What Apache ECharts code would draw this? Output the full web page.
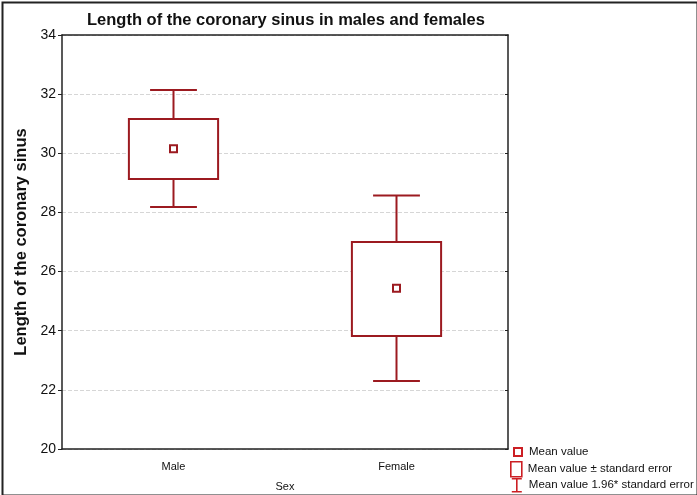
<!DOCTYPE html>
<html>
<head>
<meta charset="utf-8">
<script src="https://cdn.jsdelivr.net/npm/echarts@6/dist/echarts.min.js"></script>
<style>html,body{margin:0;padding:0;background:#fff}#c{width:697px;height:495px}</style>
</head>
<body>
<div id="c"></div>
<script>
const categories = ['Male', 'Female'];
const meanValues = [30.15, 25.44];
const seLow = [29.13, 23.82];
const seHigh = [31.16, 27.0];
const ciLow = [28.18, 22.30];
const ciHigh = [32.14, 28.57];
const yTicks = [20, 22, 24, 26, 28, 30, 32, 34];
const legendNames = ['Mean value', 'Mean value \u00b1 standard error', 'Mean value 1.96* standard error'];

const RED = '#9c1a20';
const LEG = '#cc1f24';

const chart = echarts.init(document.getElementById('c'));

function whiskerItem(params, api) {
  const i = api.value(0);
  const band = api.size([1, 0])[0];
  const cap = band * 0.105;
  const pLo = api.coord([i, api.value(1)]);
  const pHi = api.coord([i, api.value(2)]);
  const bLo = api.coord([i, api.value(3)]);
  const bHi = api.coord([i, api.value(4)]);
  const st = { stroke: RED, lineWidth: 2, fill: null };
  return {
    type: 'group',
    children: [
      { type: 'line', shape: { x1: pHi[0], y1: pHi[1], x2: bHi[0], y2: bHi[1] }, style: st },
      { type: 'line', shape: { x1: bLo[0], y1: bLo[1], x2: pLo[0], y2: pLo[1] }, style: st },
      { type: 'line', shape: { x1: pHi[0] - cap, y1: pHi[1], x2: pHi[0] + cap, y2: pHi[1] }, style: st },
      { type: 'line', shape: { x1: pLo[0] - cap, y1: pLo[1], x2: pLo[0] + cap, y2: pLo[1] }, style: st }
    ]
  };
}

function boxItem(params, api) {
  const i = api.value(0);
  const band = api.size([1, 0])[0];
  const half = band * 0.2;
  const lo = api.coord([i, api.value(1)]);
  const hi = api.coord([i, api.value(2)]);
  return {
    type: 'rect',
    shape: { x: lo[0] - half, y: hi[1], width: half * 2, height: lo[1] - hi[1] },
    style: { stroke: RED, lineWidth: 2, fill: '#fff' }
  };
}

function meanItem(params, api) {
  const p = api.coord([api.value(0), api.value(1)]);
  return {
    type: 'rect',
    shape: { x: p[0] - 3.5, y: p[1] - 3.5, width: 7, height: 7 },
    style: { stroke: RED, lineWidth: 2, fill: '#fff' }
  };
}

const legendIcons = [
  { icon: 'path://M0,0M13,14M3,3h8v8h-8z', itemStyle: { color: '#fff', borderColor: LEG, borderWidth: 2 } },
  { icon: 'path://M1,0h11v15h-11z', itemStyle: { color: '#fff', borderColor: LEG, borderWidth: 1.6 } },
  { icon: 'path://M0,0M13,15M1,1h10M6,1v13M1,14h10', itemStyle: { color: 'rgba(0,0,0,0)', borderColor: LEG, borderWidth: 1.6 } }
];
const legendTops = [444, 461, 477];

const option = {
  backgroundColor: '#fff',
  animation: false,
  textStyle: { fontFamily: 'Liberation Sans, Arial, sans-serif' },
  title: {
    text: 'Length of the coronary sinus in males and females',
    left: 82, top: 7,
    textStyle: { fontSize: 16.5, fontWeight: 'bold', color: '#111', fontFamily: 'Liberation Sans, Arial, sans-serif' }
  },
  grid: { left: 62, right: 189, top: 35, bottom: 46, outerBoundsMode: 'none', containLabel: false },
  legend: legendNames.map((n, k) => ({
    orient: 'vertical',
    left: 510, top: legendTops[k],
    padding: 0,
    itemWidth: 13, itemHeight: 15,
    textStyle: { fontSize: 11.5, color: '#111' },
    selectedMode: false,
    data: [Object.assign({ name: n }, legendIcons[k])]
  })),
  graphic: [
    { type: 'rect', left: 0, top: 0, shape: { x: 1, y: 1, width: 695, height: 493 },
      style: { fill: null, stroke: '#222', lineWidth: 2 }, silent: true, z: 100 }
  ],
  xAxis: [
    {
      type: 'category', data: categories, position: 'bottom',
      name: 'Sex', nameLocation: 'middle', nameGap: 32,
      nameTextStyle: { fontSize: 11, color: '#111' },
      axisLine: { lineStyle: { color: '#222', width: 1.5 } },
      axisTick: { inside: true, alignWithLabel: true, length: 4, lineStyle: { color: '#222' } },
      axisLabel: { fontSize: 11, color: '#111', margin: 12 },
      splitLine: { show: false }
    },
    {
      type: 'category', data: categories, position: 'top',
      axisLine: { lineStyle: { color: '#222', width: 1.5 } },
      axisTick: { inside: true, alignWithLabel: true, length: 4, lineStyle: { color: '#222' } },
      axisLabel: { show: false }
    }
  ],
  yAxis: [
    {
      type: 'value', min: yTicks[0], max: yTicks[yTicks.length - 1], interval: 2,
      name: 'Length of the coronary sinus', nameLocation: 'middle', nameGap: 31,
      nameTextStyle: { fontSize: 16.5, fontWeight: 'bold', color: '#111' },
      axisLine: { show: true, lineStyle: { color: '#222', width: 1.5 } },
      axisTick: { show: true, length: 4, lineStyle: { color: '#222' } },
      axisLabel: { fontSize: 14, color: '#111', margin: 6 },
      splitLine: { show: true, lineStyle: { color: '#d6d6d6', type: 'dashed', width: 1 } }
    },
    {
      type: 'value', min: yTicks[0], max: yTicks[yTicks.length - 1], interval: 2, position: 'right',
      axisLine: { show: true, lineStyle: { color: '#222', width: 1.5 } },
      axisTick: { show: true, inside: true, length: 3, lineStyle: { color: '#222' } },
      axisLabel: { show: false },
      splitLine: { show: false }
    }
  ],
  series: [
    {
      name: legendNames[2], type: 'custom', color: LEG,
      renderItem: whiskerItem, encode: { x: 0, y: [1, 2, 3, 4] },
      data: categories.map((c, i) => [i, ciLow[i], ciHigh[i], seLow[i], seHigh[i]]), z: 2
    },
    {
      name: legendNames[1], type: 'custom', color: LEG,
      renderItem: boxItem, encode: { x: 0, y: [1, 2] },
      data: categories.map((c, i) => [i, seLow[i], seHigh[i]]), z: 3
    },
    {
      name: legendNames[0], type: 'custom', color: LEG,
      renderItem: meanItem, encode: { x: 0, y: 1 },
      data: categories.map((c, i) => [i, meanValues[i]]), z: 4
    }
  ]
};
chart.setOption(option);
</script>
</body>
</html>
